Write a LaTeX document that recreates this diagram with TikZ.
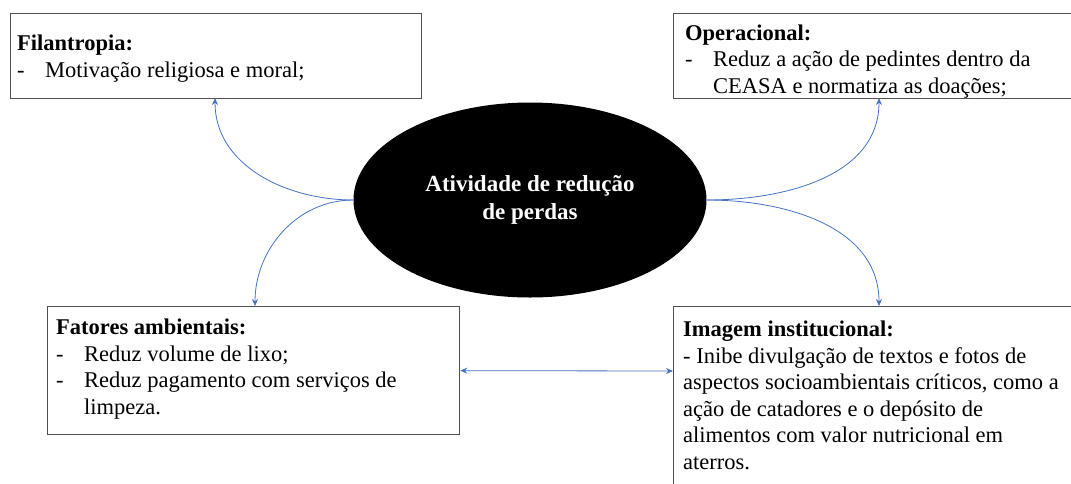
\documentclass[tikz,border=0pt]{standalone}
\usepackage{fontspec}
\setmainfont{Liberation Serif}
\usetikzlibrary{shapes.geometric,arrows.meta}
\definecolor{linkblue}{RGB}{68,114,196}
\definecolor{framegray}{RGB}{80,80,80}
\newcommand{\boxfont}{\fontsize{22.5}{26.5}\selectfont}
\newcommand{\itemdash}{\makebox[28pt][l]{-}}
\newcommand{\hangpad}{\hspace*{28pt}}

\begin{document}
\begin{tikzpicture}[x=1pt,y=-1pt,
  frame/.style={draw=framegray,line width=1.3pt,anchor=north west,inner sep=0pt},
  boxtext/.style={anchor=base west,align=left,inner sep=0pt,font=\boxfont},
  link/.style={linkblue,line width=0.8pt,-{Stealth[length=7pt,width=6pt]}}]
\useasboundingbox (0,0) rectangle (1071,483);
% frames
\node[frame,minimum width=411pt,minimum height=85pt] (filbox) at (10,13) {};
\node[frame,minimum width=420pt,minimum height=85pt] (opbox) at (673,13) {};
\node[frame,minimum width=412pt,minimum height=128pt] (fatbox) at (47,306) {};
\node[frame,minimum width=420pt,minimum height=200pt] (imgbox) at (673,306) {};
% texts (placed by the baseline of their last line)
\node[boxtext] (filtext) at (17,77) {\textbf{Filantropia:}\\
  \itemdash Motivação religiosa e moral;};
\node[boxtext] (optext) at (685,93) {\textbf{Operacional:}\\
  \itemdash Reduz a ação de pedintes dentro da\\
  \hangpad CEASA e normatiza as doações;};
\node[boxtext] (fattext) at (56,414) {\textbf{Fatores ambientais:}\\
  \itemdash Reduz volume de lixo;\\
  \itemdash Reduz pagamento com serviços de\\
  \hangpad limpeza.};
\node[boxtext] (imgtext) at (683,469) {\textbf{Imagem institucional:}\\
  - Inibe divulgação de textos e fotos de\\
  aspectos socioambientais críticos, como a\\
  ação de catadores e o depósito de\\
  alimentos com valor nutricional em\\
  aterros.};
% centre
\node[ellipse,fill=black,minimum width=353pt,minimum height=195pt,
  text=white,font=\bfseries\fontsize{23}{28}\selectfont,align=center] (core) at (530,200)
  {Atividade de redução\\de perdas};
% connector ends
\coordinate (filin) at (215,98);
\coordinate (opin) at (879,98);
\coordinate (fatin) at (255,306);
\coordinate (imgin) at (879,306);
\coordinate (imgside) at (673,371);
\draw[link] (core.west) to[out=180,in=-90] (filin);
\draw[link] (core.west) to[out=180,in=90] (fatin);
\draw[link] (core.east) to[out=0,in=-90] (opin);
\draw[link] (core.east) to[out=0,in=90] (imgin);
\draw[link,{Stealth[length=7pt,width=6pt]}-{Stealth[length=7pt,width=6pt]}] (fatbox.east) -- (imgside);
\end{tikzpicture}
\end{document}
